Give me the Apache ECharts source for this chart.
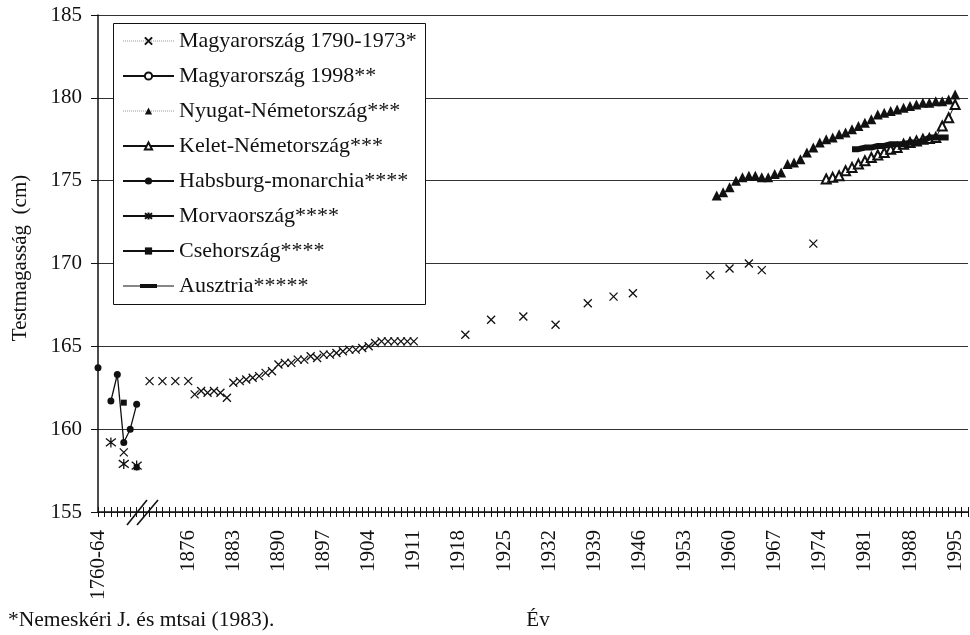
<!DOCTYPE html>
<html>
<head>
<meta charset="utf-8">
<script src="https://cdn.jsdelivr.net/npm/echarts@6/dist/echarts.min.js"></script>
<style>
  html, body { margin: 0; padding: 0; background: #fff; }
  #chart { width: 970px; height: 635px; }
</style>
</head>
<body>
<div id="chart"></div>
<script>
// Category axis: early period groups, then single years 1870-1997
const earlyPeriods = ['1760-64', '1765-69', '1770-79', '1780-89', '1790-99', '1800-09', '1810-19', '1820-69'];
const yearCats = [];
for (let y = 1870; y <= 1997; y++) yearCats.push(String(y));
const categories = earlyPeriods.concat(yearCats);

const yTicks = { min: 155, max: 185, step: 5 };

// Testmagasság (cm) by period / year
const magyar1790 = [
  ['1790-99', 158.6],
  ['1870', 162.9], ['1872', 162.9], ['1874', 162.9], ['1876', 162.9],
  ['1877', 162.1], ['1878', 162.3], ['1879', 162.2], ['1880', 162.3], ['1881', 162.2], ['1882', 161.9],
  ['1883', 162.8], ['1884', 162.9], ['1885', 163.0], ['1886', 163.1], ['1887', 163.2], ['1888', 163.4],
  ['1889', 163.5], ['1890', 163.9], ['1891', 164.0], ['1892', 164.0], ['1893', 164.2], ['1894', 164.2],
  ['1895', 164.4], ['1896', 164.3], ['1897', 164.5], ['1898', 164.5], ['1899', 164.6], ['1900', 164.7],
  ['1901', 164.8], ['1902', 164.8], ['1903', 164.9], ['1904', 165.0], ['1905', 165.2], ['1906', 165.3],
  ['1907', 165.3], ['1908', 165.3], ['1909', 165.3], ['1910', 165.3], ['1911', 165.3],
  ['1919', 165.7], ['1923', 166.6], ['1928', 166.8], ['1933', 166.3], ['1938', 167.6], ['1942', 168.0],
  ['1945', 168.2], ['1957', 169.3], ['1960', 169.7], ['1963', 170.0], ['1965', 169.6], ['1973', 171.2]
];
const magyar1998 = [];
const nyugatNemet = [
  ['1958', 174.1], ['1959', 174.3], ['1960', 174.6], ['1961', 175.0], ['1962', 175.2], ['1963', 175.3],
  ['1964', 175.3], ['1965', 175.2], ['1966', 175.2], ['1967', 175.4], ['1968', 175.5], ['1969', 176.0],
  ['1970', 176.1], ['1971', 176.3], ['1972', 176.7], ['1973', 177.0], ['1974', 177.3], ['1975', 177.5],
  ['1976', 177.6], ['1977', 177.8], ['1978', 177.9], ['1979', 178.1], ['1980', 178.3], ['1981', 178.5],
  ['1982', 178.7], ['1983', 179.0], ['1984', 179.1], ['1985', 179.2], ['1986', 179.3], ['1987', 179.4],
  ['1988', 179.5], ['1989', 179.6], ['1990', 179.7], ['1991', 179.7], ['1992', 179.8], ['1993', 179.8],
  ['1994', 179.9], ['1995', 180.2]
];
const keletNemet = [
  ['1975', 175.1], ['1976', 175.2], ['1977', 175.3], ['1978', 175.6], ['1979', 175.8], ['1980', 176.0],
  ['1981', 176.2], ['1982', 176.4], ['1983', 176.55], ['1984', 176.7], ['1985', 176.9], ['1986', 177.0],
  ['1987', 177.2], ['1988', 177.3], ['1989', 177.4], ['1990', 177.5], ['1991', 177.55], ['1992', 177.6],
  ['1993', 178.3], ['1994', 178.8], ['1995', 179.6]
];
const habsburg = [
  ['1760-64', 163.7], ['1765-69', '-'], ['1770-79', 161.7], ['1780-89', 163.3],
  ['1790-99', 159.2], ['1800-09', 160.0], ['1810-19', 161.5]
];
const morva = [
  ['1770-79', 159.2], ['1780-89', '-'], ['1790-99', 157.9], ['1800-09', '-'], ['1810-19', 157.8]
];
const cseh = [
  ['1790-99', 161.6], ['1800-09', '-'], ['1810-19', 157.7]
];
const ausztria = [
  ['1979', 176.9], ['1980', 176.9], ['1981', 177.0], ['1982', 177.0], ['1983', 177.1], ['1984', 177.1],
  ['1985', 177.2], ['1986', 177.2], ['1987', 177.2], ['1988', 177.3], ['1989', 177.3], ['1990', 177.4],
  ['1991', 177.6], ['1992', 177.6], ['1993', 177.6], ['1994', 177.6]
];

const SERIF = "'Liberation Serif', 'Times New Roman', serif";
const INK = '#111';
const crossSymbol = 'path://M0,0L10,10M10,0L0,10';
const starSymbol = 'path://M0,0L10,10M10,0L0,10M5,-1.5L5,11.5';
// thin line with a short thick bar in the middle (51 x 9 box)
const dashIcon = 'path://M0,0L0.01,0L0.01,0.01Z M51,9L50.99,9L50.99,8.99Z M0,4L51,4L51,5L0,5Z M17,2.5L34,2.5L34,6.5L17,6.5Z';

const labelShown = (idx) => idx === 0 || (idx >= 14 && idx % 7 === 0);

const chart = echarts.init(document.getElementById('chart'), null, { renderer: 'canvas' });

const option = {
  backgroundColor: '#fff',
  animation: false,
  grid: { left: 98, right: 2, top: 15, bottom: 123, containLabel: false },
  xAxis: [
    {
      type: 'category',
      data: categories,
      boundaryGap: false,
      axisLine: { show: true, lineStyle: { color: INK, width: 1.5 } },
      axisTick: { show: true, interval: 0, length: 5, lineStyle: { color: INK, width: 1 } },
      axisLabel: {
        interval: 0,
        formatter: (v, idx) => (labelShown(idx) ? v : ''),
        rotate: 90,
        margin: 18,
        fontFamily: SERIF,
        fontSize: 21,
        color: INK
      },
      splitLine: { show: false }
    },
    {
      type: 'category',
      data: categories,
      boundaryGap: false,
      position: 'bottom',
      axisLine: { show: false },
      axisTick: { show: true, inside: true, interval: 0, length: 5, lineStyle: { color: INK, width: 1 } },
      axisLabel: { show: false },
      splitLine: { show: false }
    }
  ],
  yAxis: {
    type: 'value',
    min: yTicks.min,
    max: yTicks.max,
    interval: yTicks.step,
    axisLine: { show: true, lineStyle: { color: INK, width: 1.5 } },
    axisTick: { show: true, length: 7, lineStyle: { color: INK } },
    axisLabel: { margin: 16, fontFamily: SERIF, fontSize: 21, color: INK },
    splitLine: { show: true, lineStyle: { color: '#333', width: 1 } }
  },
  legend: {
    orient: 'vertical',
    left: 122,
    top: 30,
    padding: 0,
    itemWidth: 51,
    itemHeight: 9,
    itemGap: 13,
    selectedMode: false,
    textStyle: { fontFamily: SERIF, fontSize: 22, color: INK, lineHeight: 22 },
    data: [
      { name: 'Magyarország 1790-1973*', lineStyle: { opacity: 1, color: '#999', type: 'dotted', width: 1 } },
      { name: 'Magyarország 1998**' },
      { name: 'Nyugat-Németország***', lineStyle: { opacity: 1, color: '#999', type: 'dotted', width: 1 } },
      { name: 'Kelet-Németország***' },
      { name: 'Habsburg-monarchia****' },
      { name: 'Morvaország****' },
      { name: 'Csehország****' },
      { name: 'Ausztria*****', icon: dashIcon }
    ]
  },
  series: [
    {
      name: 'Magyarország 1790-1973*', type: 'line', data: magyar1790,
      symbol: crossSymbol, symbolSize: 8, showAllSymbol: true,
      lineStyle: { opacity: 0, color: '#999' },
      itemStyle: { color: 'transparent', borderColor: INK, borderWidth: 1.3 },
      z: 3
    },
    {
      name: 'Magyarország 1998**', type: 'line', data: magyar1998,
      symbol: 'emptyCircle', symbolSize: 5,
      lineStyle: { color: INK, width: 1 },
      itemStyle: { color: INK, borderWidth: 1 }
    },
    {
      name: 'Nyugat-Németország***', type: 'line', data: nyugatNemet,
      symbol: 'triangle', symbolSize: 10, showAllSymbol: true,
      lineStyle: { opacity: 0, color: '#999' },
      itemStyle: { color: INK, borderWidth: 0 },
      z: 3
    },
    {
      name: 'Kelet-Németország***', type: 'line', data: keletNemet,
      symbol: 'emptyTriangle', symbolSize: 9, showAllSymbol: true,
      lineStyle: { color: INK, width: 1 },
      itemStyle: { color: INK, borderWidth: 1.1 },
      z: 3
    },
    {
      name: 'Habsburg-monarchia****', type: 'line', data: habsburg,
      symbol: 'circle', symbolSize: 7, showAllSymbol: true, connectNulls: false,
      lineStyle: { color: INK, width: 1.3 },
      itemStyle: { color: INK, borderWidth: 0 },
      z: 3
    },
    {
      name: 'Morvaország****', type: 'line', data: morva,
      symbol: starSymbol, symbolSize: 10, showAllSymbol: true, connectNulls: false,
      lineStyle: { color: INK, width: 1.3 },
      itemStyle: { color: 'transparent', borderColor: INK, borderWidth: 1.3 },
      z: 3
    },
    {
      name: 'Csehország****', type: 'line', data: cseh,
      symbol: 'rect', symbolSize: 6, showAllSymbol: true, connectNulls: false,
      lineStyle: { color: INK, width: 1.3 },
      itemStyle: { color: INK, borderWidth: 0 },
      z: 3
    },
    {
      name: 'Ausztria*****', type: 'line', data: ausztria,
      symbol: 'none',
      lineStyle: { color: INK, width: 6 },
      itemStyle: { color: INK, borderWidth: 0 },
      z: 4
    }
  ],
  graphic: [
    // legend frame
    { type: 'rect', left: 113, top: 23, shape: { width: 312, height: 281 },
      style: { fill: '#fff', stroke: INK, lineWidth: 1 }, z: 1, zlevel: 0, silent: true },
    // axis break marks
    { type: 'line', shape: { x1: 127, y1: 525, x2: 147, y2: 500 }, style: { stroke: INK, lineWidth: 1.6 }, z: 100 },
    { type: 'line', shape: { x1: 137, y1: 525, x2: 158, y2: 500 }, style: { stroke: INK, lineWidth: 1.6 }, z: 100 },
    // y axis title
    { type: 'text', x: 20, y: 258, rotation: Math.PI / 2,
      style: { text: 'Testmagasság  (cm)', fontFamily: SERIF, fontSize: 21, fill: INK, align: 'center', verticalAlign: 'middle' } },
    // x axis title
    { type: 'text', x: 538, y: 620,
      style: { text: 'Év', fontFamily: SERIF, fontSize: 21, fill: INK, align: 'center', verticalAlign: 'middle' } },
    // source note
    { type: 'text', x: 8, y: 620,
      style: { text: '*Nemeskéri J. és mtsai (1983).', fontFamily: SERIF, fontSize: 21.5, fill: INK, align: 'left', verticalAlign: 'middle' } }
  ]
};

chart.setOption(option);
</script>
</body>
</html>
